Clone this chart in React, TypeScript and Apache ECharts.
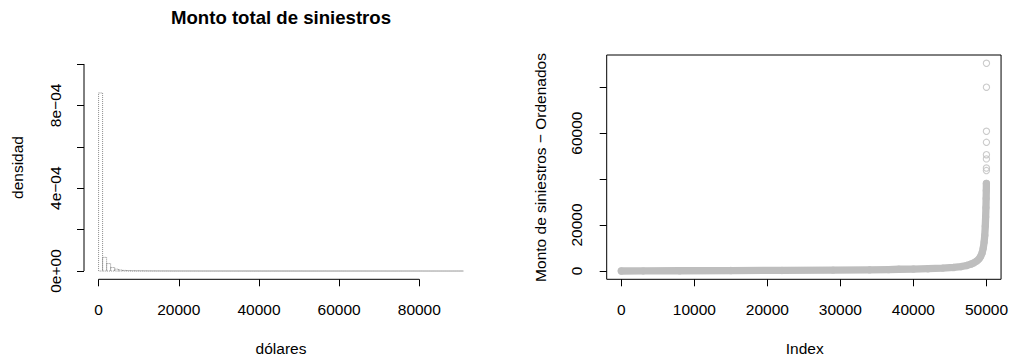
import React, { useEffect, useRef } from "react";
import * as echarts from "echarts";

// ---------- Left panel: histogram (density) ----------
const binWidth = 1000;
const histDensity = [
  8.6e-4, 6.6e-5, 3.6e-5, 1.7e-5, 9e-6, 5e-6, 3e-6, 2e-6, 1.5e-6, 1.2e-6,
  1e-6, 8e-7, 6e-7, 5e-7, 4e-7, 3.5e-7, 3e-7, 2.5e-7, 2e-7, 2e-7,
  1.6e-7, 1.4e-7, 1.2e-7, 1e-7, 1e-7, 8e-8, 8e-8, 6e-8, 6e-8, 6e-8,
  4e-8, 4e-8, 4e-8, 4e-8, 2e-8, 2e-8, 2e-8, 2e-8, 2e-8, 2e-8,
  0, 0, 0, 2e-8, 2e-8, 0, 0, 0, 2e-8, 0,
  2e-8, 0, 0, 0, 0, 0, 2e-8, 0, 0, 0,
  2e-8, 0, 0, 0, 0, 0, 0, 0, 0, 0,
  0, 0, 0, 0, 0, 0, 0, 0, 0, 0,
  2e-8, 0, 0, 0, 0, 0, 0, 0, 0, 0,
  2e-8,
];
const leftXTicks = [0, 20000, 40000, 60000, 80000];
const leftYTicks = [0, 0.0002, 0.0004, 0.0006, 0.0008, 0.001];
const leftYLabelValues = [0, 0.0004, 0.0008];
const leftYLabelTexts = ["0e+00", "4e\u221204", "8e\u221204"];

// ---------- Right panel: sorted claim amounts ----------
const bandIndex = [
  1, 3000, 8000, 15000, 22000, 29000, 34000, 36600, 38000, 40000,
  42000, 44000, 45500, 46500, 47300, 47900, 48300, 48700, 49000, 49200,
  49400, 49550, 49680, 49770, 49840, 49890, 49930, 49960, 49980, 49992,
];
const bandValue = [
  0, 40, 100, 180, 260, 380, 500, 600, 750, 850,
  1000, 1250, 1550, 1900, 2400, 3000, 3600, 4400, 5300, 6300,
  7800, 9800, 12500, 15500, 19500, 23500, 27500, 31500, 35000, 38100,
];
const tailIndex = [49993, 49994, 49995, 49996, 49997, 49998, 49999, 50000];
const tailValue = [43700, 44800, 48800, 50600, 56000, 60800, 80000, 90400];

const rightXTicks = [0, 10000, 20000, 30000, 40000, 50000];
const rightYTicks = [0, 20000, 40000, 60000, 80000];
const rightYLabelValues = [0, 20000, 60000];

const FONT = "Liberation Sans, Arial, Helvetica, sans-serif";
const FS = 15.5;

function pad(lo: number, hi: number): [number, number] {
  const d = (hi - lo) * 0.04;
  return [lo - d, hi + d];
}

export default function App() {
  const ref = useRef<HTMLDivElement>(null);

  useEffect(() => {
    if (!ref.current) return;
    const chart = echarts.init(ref.current, undefined, { renderer: "svg" });

    const [lxMin, lxMax] = pad(0, histDensity.length * binWidth);
    const [lyMin, lyMax] = pad(0, leftYTicks[leftYTicks.length - 1]);
    const allIdx = bandIndex.concat(tailIndex);
    const allVal = bandValue.concat(tailValue);
    const [rxMin, rxMax] = pad(Math.min(...allIdx), Math.max(...allIdx));
    const [ryMin, ryMax] = pad(Math.min(...allVal), Math.max(...allVal));

    const labelStyle = { fontFamily: FONT, fontSize: FS, color: "#000" };
    const tick = { show: true, inside: false, length: 7, lineStyle: { color: "#000", width: 1 } };
    const noLine = { show: false, onZero: false };

    const histData = histDensity.map((d, i) => [i * binWidth, (i + 1) * binWidth, d]);

    const option: any = {
      animation: false,
      backgroundColor: "#fff",
      grid: [
        { left: 84, top: 55.7, width: 394, height: 223.6 },
        {
          left: 606.7, top: 55, width: 396, height: 224.3,
          show: true, borderColor: "#000", borderWidth: 1, backgroundColor: "transparent",
        },
      ],
      xAxis: [
        {
          type: "value", gridIndex: 0, min: lxMin, max: lxMax, position: "bottom",
          axisLine: noLine, splitLine: { show: false },
          axisTick: { ...tick, customValues: leftXTicks },
          axisLabel: { ...labelStyle, margin: 22, customValues: leftXTicks, formatter: (v: number) => String(v) },
        },
        {
          type: "value", gridIndex: 1, min: rxMin, max: rxMax, position: "bottom",
          axisLine: noLine, splitLine: { show: false },
          axisTick: { ...tick, customValues: rightXTicks },
          axisLabel: { ...labelStyle, margin: 22, customValues: rightXTicks, formatter: (v: number) => String(v) },
        },
      ],
      yAxis: [
        {
          type: "value", gridIndex: 0, min: lyMin, max: lyMax, position: "left",
          axisLine: noLine, splitLine: { show: false },
          axisTick: { ...tick, customValues: leftYTicks },
          axisLabel: {
            ...labelStyle, margin: 21, rotate: 90, customValues: leftYLabelValues,
            formatter: (v: number) => {
              let best = 0;
              leftYLabelValues.forEach((lv, i) => {
                if (Math.abs(lv - v) < Math.abs(leftYLabelValues[best] - v)) best = i;
              });
              return leftYLabelTexts[best];
            },
          },
        },
        {
          type: "value", gridIndex: 1, min: ryMin, max: ryMax, position: "left",
          axisLine: noLine, splitLine: { show: false },
          axisTick: { ...tick, customValues: rightYTicks },
          axisLabel: { ...labelStyle, margin: 22, rotate: 90, customValues: rightYLabelValues, formatter: (v: number) => String(v) },
        },
      ],
      graphic: [
        {
          type: "text", x: 281, y: 17.5,
          style: { text: "Monto total de siniestros", fontFamily: FONT, fontSize: 18.6, fontWeight: "bold", fill: "#000", align: "center", verticalAlign: "middle" },
        },
        {
          type: "text", x: 281, y: 348,
          style: { text: "d\u00f3lares", fontFamily: FONT, fontSize: FS, fill: "#000", align: "center", verticalAlign: "middle" },
        },
        {
          type: "text", x: 17.5, y: 167.5, rotation: Math.PI / 2,
          style: { text: "densidad", fontFamily: FONT, fontSize: FS, fill: "#000", align: "center", verticalAlign: "middle" },
        },
        {
          type: "text", x: 804.7, y: 348,
          style: { text: "Index", fontFamily: FONT, fontSize: FS, fill: "#000", align: "center", verticalAlign: "middle" },
        },
        {
          type: "text", x: 540, y: 167.5, rotation: Math.PI / 2,
          style: { text: "Monto de siniestros \u2212 Ordenados", fontFamily: FONT, fontSize: FS, fill: "#000", align: "center", verticalAlign: "middle" },
        },
      ],
      series: [
        {
          type: "custom", xAxisIndex: 0, yAxisIndex: 0, silent: true,
          data: histData,
          encode: { x: [0, 1], y: 2 },
          renderItem: (params: any, api: any) => {
            const p0 = api.coord([api.value(0), 0]);
            const p1 = api.coord([api.value(1), api.value(2)]);
            return {
              type: "rect",
              shape: { x: p0[0], y: p1[1], width: p1[0] - p0[0], height: Math.max(p0[1] - p1[1], 0) },
              style: { fill: "none", stroke: "#8a8a8a", lineWidth: 1, lineDash: [1, 1] },
            };
          },
        },
        {
          type: "line", xAxisIndex: 0, yAxisIndex: 0, silent: true, clip: false, symbol: "none",
          data: [[leftXTicks[0], lyMin], [leftXTicks[leftXTicks.length - 1], lyMin]],
          lineStyle: { color: "#000", width: 1 },
        },
        {
          type: "line", xAxisIndex: 0, yAxisIndex: 0, silent: true, clip: false, symbol: "none",
          data: [[lxMin, leftYTicks[0]], [lxMin, leftYTicks[leftYTicks.length - 1]]],
          lineStyle: { color: "#000", width: 1 },
        },
        {
          type: "line", xAxisIndex: 1, yAxisIndex: 1, silent: true, symbol: "none",
          data: bandIndex.map((x, i) => [x, bandValue[i]]),
          lineStyle: { color: "#bebebe", width: 7.3, cap: "round", join: "round" },
        },
        {
          type: "scatter", xAxisIndex: 1, yAxisIndex: 1, silent: true,
          data: bandIndex.map((x, i) => [x, bandValue[i]]).concat(tailIndex.map((x, i) => [x, tailValue[i]])),
          symbol: "circle", symbolSize: 6.3,
          itemStyle: { color: "transparent", borderColor: "#bebebe", borderWidth: 1.1 },
        },
      ],
    };

    chart.setOption(option);
    return () => chart.dispose();
  }, []);

  return (
    <div
      ref={ref}
      style={{ position: "fixed", left: 0, top: 0, width: 1011, height: 360, background: "#fff" }}
    />
  );
}
